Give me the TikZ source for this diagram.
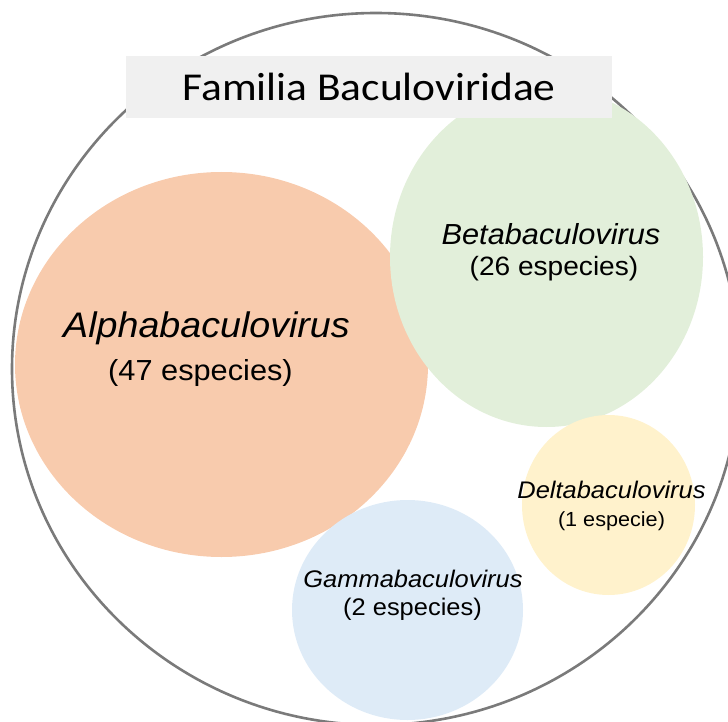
\documentclass[tikz,border=0pt]{standalone}
\usepackage{graphicx}
\usepackage{fontspec}
\setmainfont{Liberation Sans}
\newfontfamily\titlefont{Carlito}
\usetikzlibrary{shapes.geometric}

\definecolor{alphaorange}{HTML}{F8CBAD}
\definecolor{betagreen}{HTML}{E2EFDA}
\definecolor{gammablue}{HTML}{DEEBF7}
\definecolor{deltayellow}{HTML}{FFF2CC}
\definecolor{titlegray}{HTML}{F0F0F0}
\definecolor{rimgray}{HTML}{7A7A7A}

\newcommand{\wide}[2][1.06]{\scalebox{#1}[1]{#2}}

\begin{document}
\begin{tikzpicture}[x=1pt, y=-1pt,
    genus/.style={shape=ellipse, inner sep=0pt},
    genuslabel/.style={anchor=base, inner sep=0pt, font=\fontsize{#1}{#1}\selectfont\itshape},
    specieslabel/.style={anchor=base, inner sep=0pt, font=\fontsize{#1}{#1}\selectfont}]
        \useasboundingbox (0,0) rectangle (728,722);
        % the family
        \node[genus, draw=rimgray, line width=2.6pt, minimum width=728pt, minimum height=712pt] (family) at (376, 369) {};
        % the four genera
        \node[genus, fill=alphaorange, minimum width=413pt, minimum height=385pt] (alpha) at (221.5, 364.5) {};
        \node[genus, fill=betagreen, minimum width=313pt, minimum height=340pt] (beta) at (546.5, 257) {};
        \node[genus, fill=gammablue, minimum width=231pt, minimum height=220pt] (gamma) at (407.5, 610) {};
        \node[genus, fill=deltayellow, minimum width=173pt, minimum height=180pt] (delta) at (608.5, 505) {};
        \node[fill=titlegray, minimum width=486pt, minimum height=62pt, inner sep=0pt,
              font=\fontsize{39.5}{39.5}\selectfont\titlefont] (title) at (369, 87) {\wide[1.1]{Familia Baculoviridae}};
        % labels
        \node[genuslabel=35.5] (alpha name) at (206.5, 337) {\wide{Alphabaculovirus}};
        \node[specieslabel=29] (alpha count) at (200.5, 380) {\wide{(47 especies)}};
        \node[genuslabel=29] (beta name) at (551, 244) {\wide{Betabaculovirus}};
        \node[specieslabel=26.5] (beta count) at (554, 275) {\wide{(26 especies)}};
        \node[genuslabel=24] (gamma name) at (413, 587) {\wide{Gammabaculovirus}};
        \node[specieslabel=24] (gamma count) at (412.5, 615) {\wide{(2 especies)}};
        \node[genuslabel=24] (delta name) at (611.5, 498) {\wide{Deltabaculovirus}};
        \node[specieslabel=20.4] (delta count) at (611.5, 526) {\wide{(1 especie)}};
    \end{tikzpicture}
\end{document}
